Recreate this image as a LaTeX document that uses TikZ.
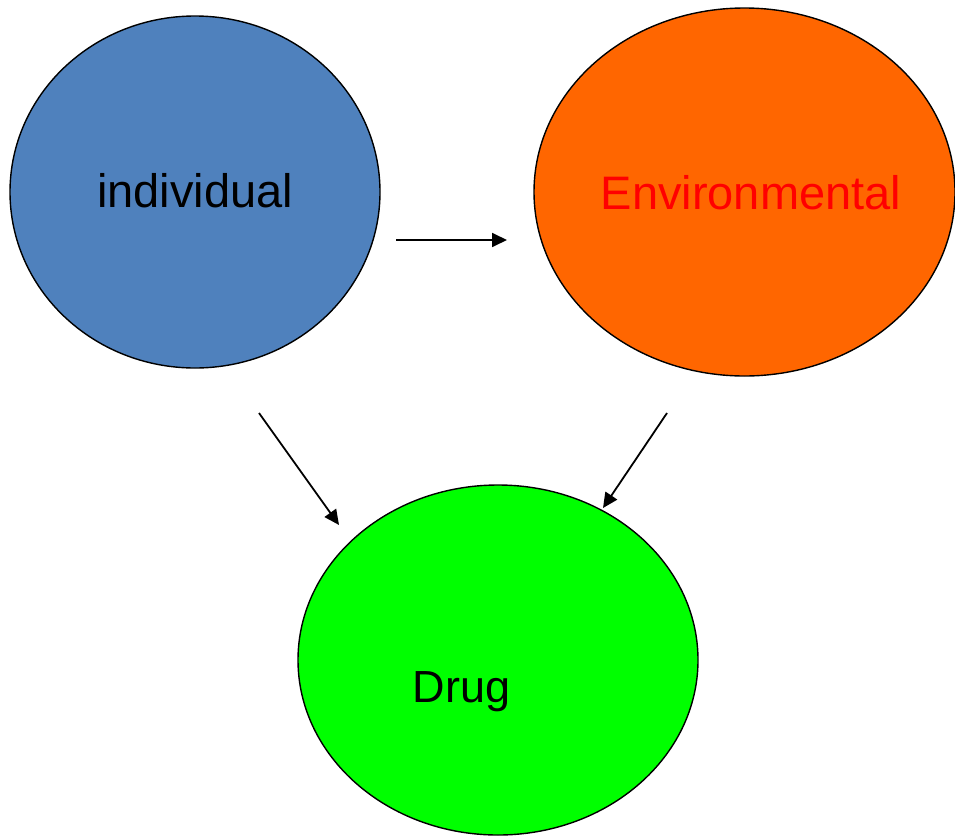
\documentclass[tikz,border=0pt]{standalone}
\usepackage{fontspec}
\setmainfont{Liberation Sans}
\usetikzlibrary{shapes.geometric,arrows.meta}
\definecolor{indblue}{HTML}{4F81BD}
\definecolor{envorange}{HTML}{FF6600}
\definecolor{druggreen}{HTML}{00FF00}
\definecolor{envred}{HTML}{FF0000}
\tikzset{
  blob/.style={ellipse, draw=black, line width=1.4pt, inner sep=0pt},
  lbl/.style={anchor=base, inner sep=0pt},
  conn/.style={line width=1.8pt, -{Triangle[length=15pt,width=14pt]}}
}
\begin{document}
\begin{tikzpicture}[x=1pt,y=-1pt]
\useasboundingbox (0,0) rectangle (955,835);
\node[blob, fill=indblue, minimum width=370pt, minimum height=352pt] (ind) at (195,192) {};
\node[blob, fill=envorange, minimum width=421pt, minimum height=368pt] (env) at (744.5,192) {};
\node[blob, fill=druggreen, minimum width=400pt, minimum height=350pt] (drug) at (498,660) {};
\node[lbl, font=\fontsize{47}{50}\selectfont] (tind) at (195,207) {individual};
\node[lbl, font=\fontsize{47}{50}\selectfont, text=envred] (tenv) at (751,209) {Environmental};
\node[lbl, font=\fontsize{45}{48}\selectfont] (tdrug) at (461.5,702) {Drug};
\coordinate (a1s) at (396,240);
\coordinate (a1e) at (507,240);
\coordinate (a2s) at (259,413);
\coordinate (a2e) at (339,525);
\coordinate (a3s) at (667,413);
\coordinate (a3e) at (603,508);
\draw[conn] (a1s) -- (a1e);
\draw[conn] (a2s) -- (a2e);
\draw[conn] (a3s) -- (a3e);
\end{tikzpicture}
\end{document}
